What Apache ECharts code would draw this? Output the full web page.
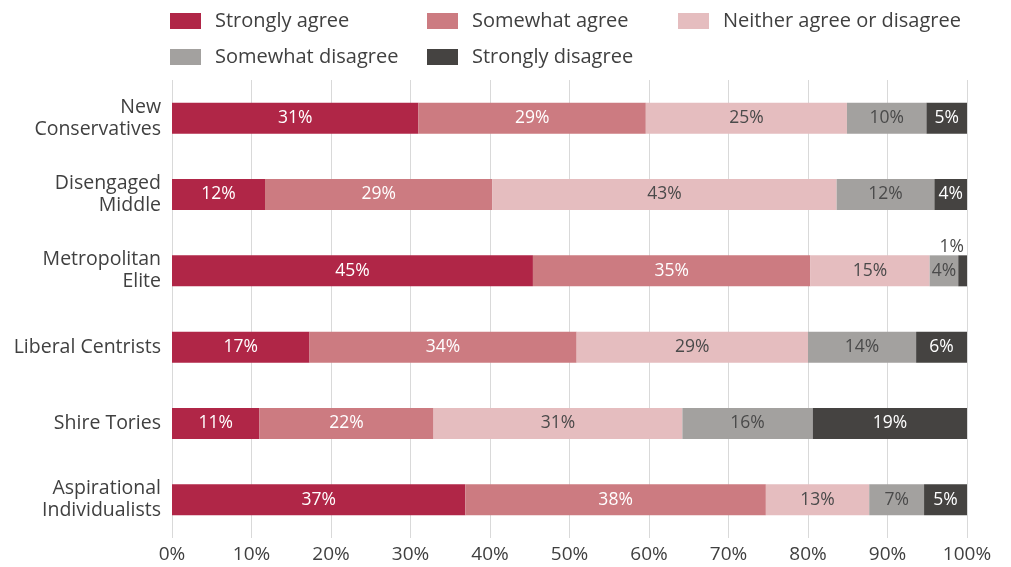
<!DOCTYPE html>
<html>
<head>
<meta charset="utf-8">
<script src="https://cdn.jsdelivr.net/npm/echarts@6/dist/echarts.min.js"></script>
<style>
html,body{margin:0;padding:0;background:#fff;}
#chart{width:1011px;height:567px;}
</style>
</head>
<body>
<div id="chart"></div>
<script>
const categories = ["New\nConservatives", "Disengaged\nMiddle", "Metropolitan\nElite", "Liberal Centrists", "Shire Tories", "Aspirational\nIndividualists"];
const seriesNames = ["Strongly agree", "Somewhat agree", "Neither agree or disagree", "Somewhat disagree", "Strongly disagree"];
const stronglyAgree    = [31.0, 11.7, 45.4, 17.3, 11.0, 36.9];
const somewhatAgree    = [28.6, 28.6, 34.9, 33.6, 21.9, 37.8];
const neither          = [25.3, 43.3, 15.0, 29.1, 31.3, 13.0];
const somewhatDisagree = [10.0, 12.3, 3.6, 13.6, 16.4, 6.9];
const stronglyDisagree = [5.1, 4.1, 1.1, 6.4, 19.4, 5.4];
const xTicks = [0, 10, 20, 30, 40, 50, 60, 70, 80, 90, 100];

const colors = ["#B02647", "#CC7B81", "#E5BDBF", "#A3A19F", "#454341"];
const labelColors = ["#ffffff", "#ffffff", "#4a4a4a", "#4a4a4a", "#ffffff"];
const allData = [stronglyAgree, somewhatAgree, neither, somewhatDisagree, stronglyDisagree];
const FONT = "Open Sans";

const series = seriesNames.map((name, si) => ({
  name: name,
  type: 'bar',
  stack: 'total',
  barWidth: 31,
  itemStyle: { color: colors[si] },
  label: {
    show: true,
    position: 'inside',
    color: labelColors[si],
    fontFamily: FONT,
    fontSize: 17.5,
    formatter: p => Math.round(p.value) + '%'
  },
  data: allData[si].map((v, ci) => {
    if (v < 2) {
      return { value: v, label: { position: 'top', distance: -1, offset: [-11, 0], color: '#4a4a4a' } };
    }
    return v;
  })
}));

const legendText = { color: '#404040', fontFamily: FONT, fontSize: 20, lineHeight: 20, padding: [0, 0, 0, 9] };
const legendBase = {
  orient: 'vertical', top: 11, padding: 0, itemWidth: 31, itemHeight: 16, itemGap: 16,
  icon: 'rect', textStyle: legendText, selectedMode: false
};

const chart = echarts.init(document.getElementById('chart'), null, { renderer: 'canvas' });
chart.setOption({
  animation: false,
  backgroundColor: '#ffffff',
  legend: [
    Object.assign({}, legendBase, { left: 170, data: [seriesNames[0], seriesNames[3]] }),
    Object.assign({}, legendBase, { left: 427, data: [seriesNames[1], seriesNames[4]] }),
    Object.assign({}, legendBase, { left: 678, data: [seriesNames[2]] })
  ],
  grid: { left: 172, right: 44, top: 80, bottom: 29, containLabel: false },
  xAxis: {
    type: 'value', min: xTicks[0], max: xTicks[xTicks.length - 1], interval: 10,
    axisLine: { show: false }, axisTick: { show: false },
    splitLine: { show: true, lineStyle: { color: '#d9d9d9', width: 1 } },
    axisLabel: { color: '#404040', fontFamily: FONT, fontSize: 19, margin: 7, formatter: v => v + '%' }
  },
  yAxis: {
    type: 'category', data: categories, inverse: true,
    axisLine: { show: false }, axisTick: { show: false },
    axisLabel: { color: '#404040', fontFamily: FONT, fontSize: 19.5, lineHeight: 22, margin: 11, align: 'right' }
  },
  series: series
});
</script>
</body>
</html>
